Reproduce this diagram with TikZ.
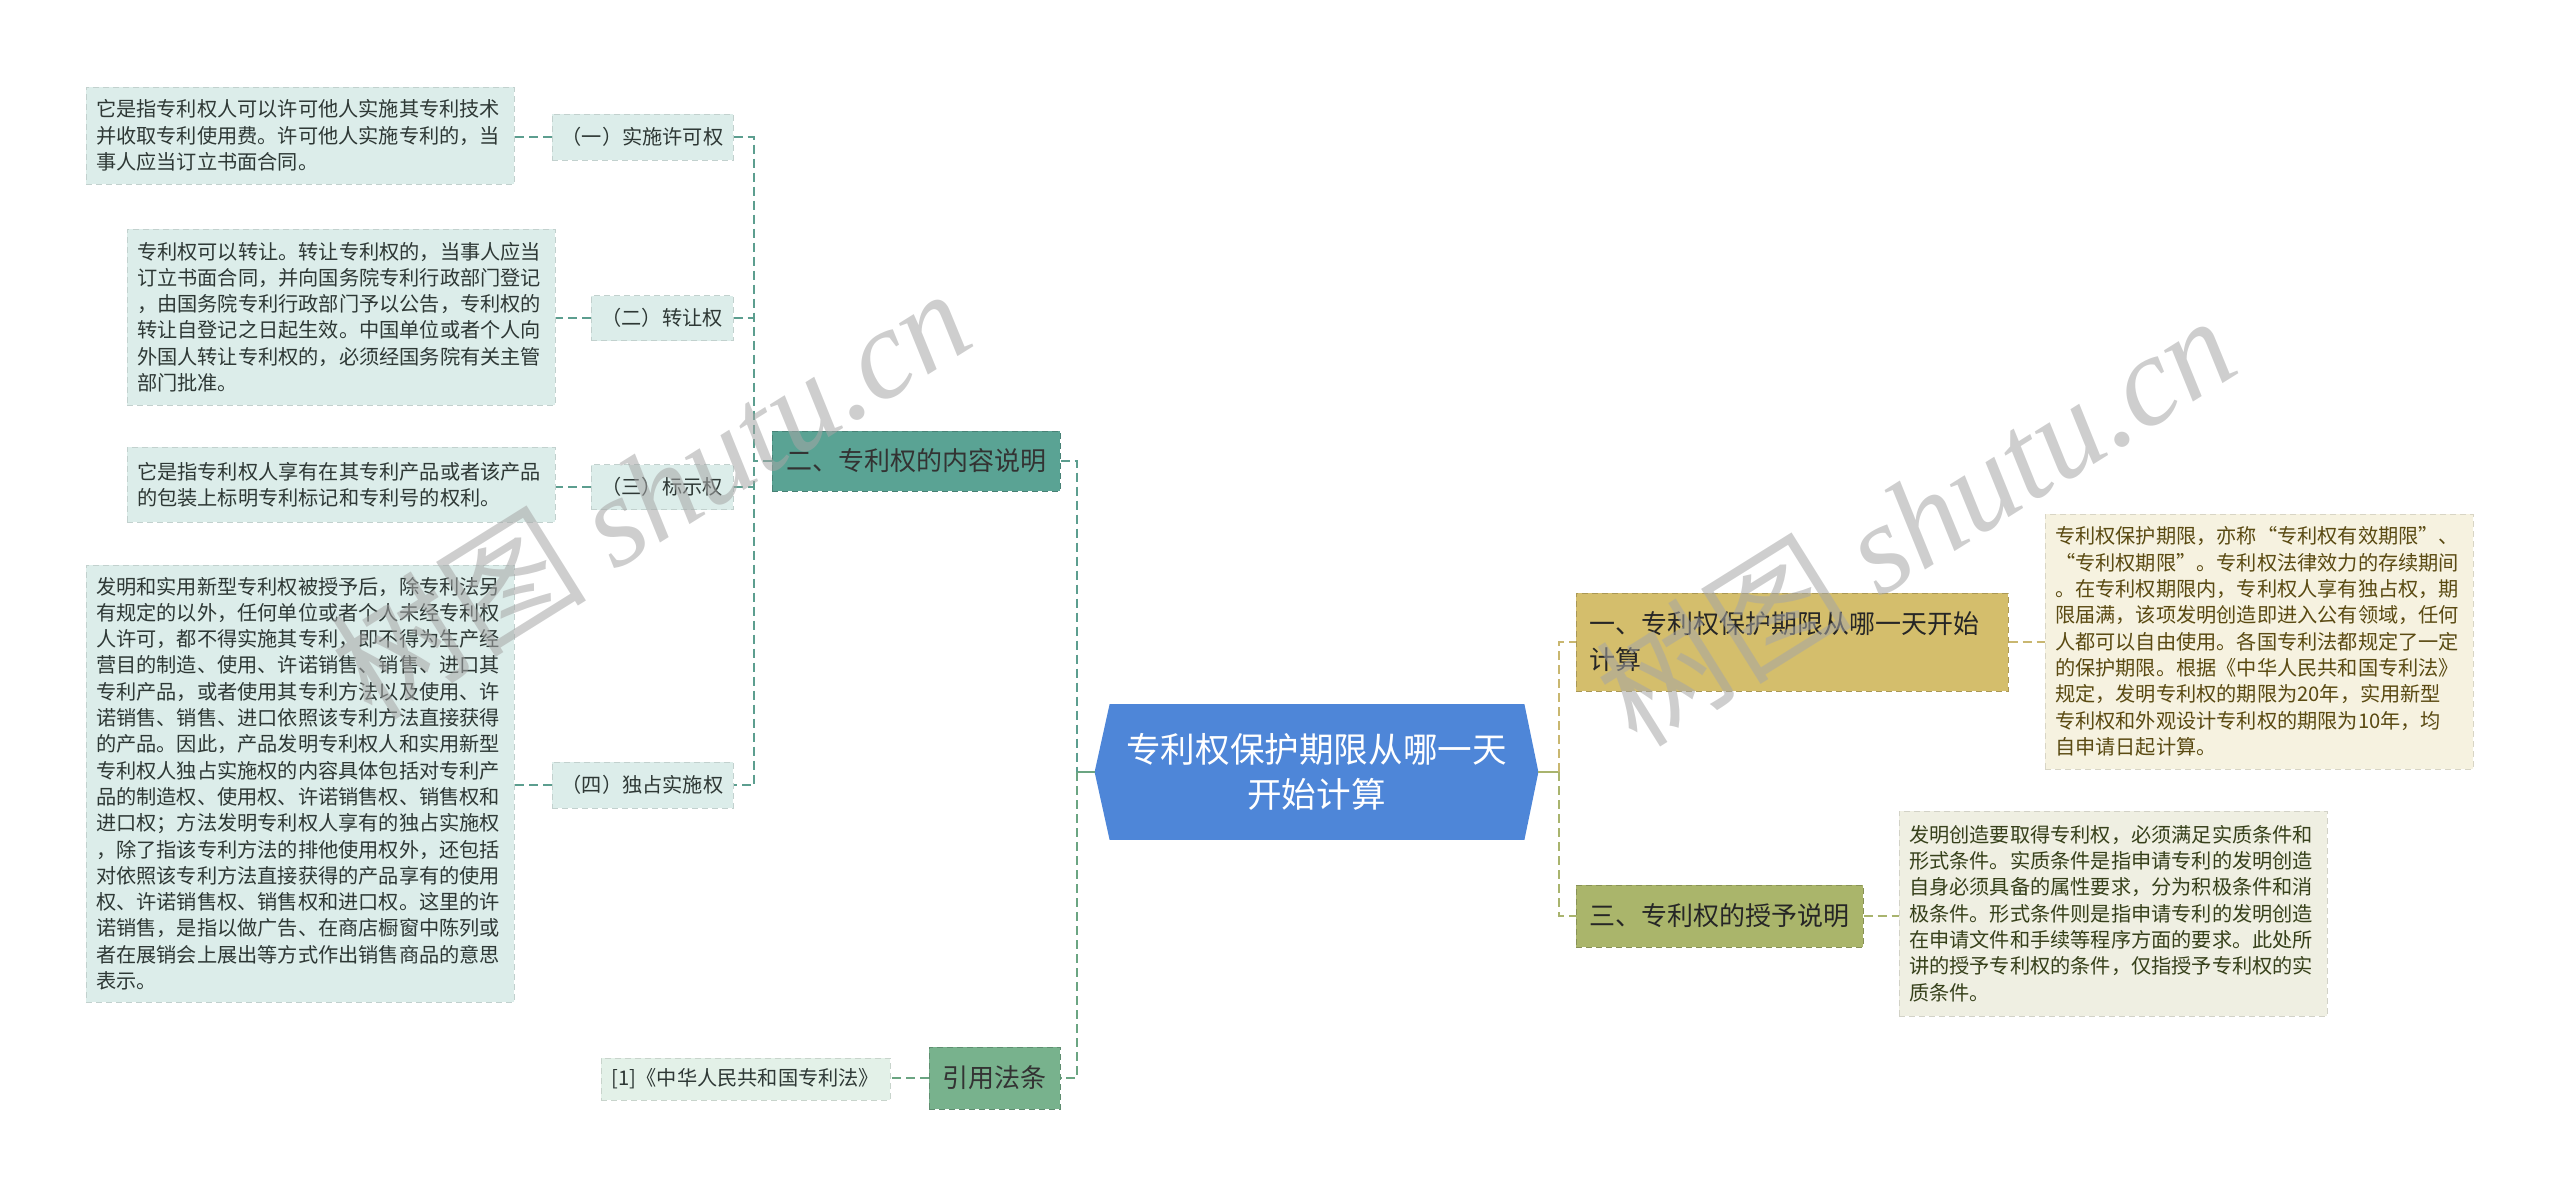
\documentclass[tikz,border=0pt]{standalone}
\usepackage{fontspec}
\setmainfont{Noto Sans CJK SC}
\newfontfamily\wmfont{Liberation Serif}
\usetikzlibrary{backgrounds}
\definecolor{rootblue}{HTML}{4E86D8}
\definecolor{tealfill}{HTML}{5AA394}
\definecolor{tealline}{HTML}{5C9E8F}
\definecolor{greenfill}{HTML}{78B28D}
\definecolor{greenline}{HTML}{6BA582}
\definecolor{lightteal}{HTML}{DCEDEA}
\definecolor{lightgreen}{HTML}{E3F1E8}
\definecolor{goldfill}{HTML}{D4BE6C}
\definecolor{goldline}{HTML}{C9B770}
\definecolor{goldlight}{HTML}{F6F2E0}
\definecolor{olivefill}{HTML}{AAB56B}
\definecolor{oliveline}{HTML}{A9B46E}
\definecolor{olivelight}{HTML}{EFEFE2}
\definecolor{txtdark}{HTML}{2E3835}
\definecolor{txtgold}{HTML}{5A4A12}
\definecolor{txtolive}{HTML}{36401A}
\tikzset{
  boxbase/.style={inner sep=0pt, dash pattern=on 3pt off 2pt, line width=0.5pt},
  descbox/.style={boxbase, fill=#1, draw=#1!88!black, text width=204pt, align=left,
    inner xsep=5pt, font=\fontsize{10.1}{13.15}\selectfont, minimum width=214pt},
  lab/.style={boxbase, fill=lightteal, draw=lightteal!88!black, align=center,
    font=\fontsize{10.1}{13.15}\selectfont, text=txtdark},
  topic/.style={boxbase, fill=#1, draw=#1!80!black, align=center,
    font=\fontsize{13}{18}\selectfont},
  rootn/.style={inner sep=0pt, minimum width=221.5pt, minimum height=67.5pt, text=white,
    align=center, font=\fontsize{17.3}{22.5}\selectfont},
  dashT/.style={draw=tealline, line width=1pt, dash pattern=on 4.5pt off 2.5pt},
  dashG/.style={draw=greenline, line width=1pt, dash pattern=on 4.5pt off 2.5pt},
  dashY/.style={draw=goldline, line width=1pt, dash pattern=on 4.5pt off 2.5pt},
  dashO/.style={draw=oliveline, line width=1pt, dash pattern=on 4.5pt off 2.5pt},
  wm/.style={text=black!35, opacity=0.55, inner sep=0pt, font=\fontsize{64}{64}\selectfont}
}
\begin{document}
\begin{tikzpicture}[x=0.5pt,y=-0.5pt]
\useasboundingbox (0,0) rectangle (2560,1196);

% root
\node[rootn] (root) at (1316.5,772) {专利权保护期限从哪一天\\开始计算};
\begin{scope}[on background layer]
\fill[rootblue] ([xshift=7.5pt]root.north west) -- ([xshift=-7pt]root.north east) -- (root.east)
  -- ([xshift=-7pt]root.south east) -- ([xshift=7.5pt]root.south west) -- (root.west) -- cycle;
\end{scope}

% left main topics
\node[topic=tealfill, minimum width=144pt, minimum height=30pt, text=black!80] (er) at (916,461) {二、专利权的内容说明};
\node[topic=greenfill, minimum width=65.5pt, minimum height=31pt, text=black!80] (yin) at (994.5,1078) {引用法条};

% labels
\node[lab, minimum width=90.5pt, minimum height=23pt] (L1) at (642.5,137) {（一）实施许可权};
\node[lab, minimum width=71pt, minimum height=22.5pt] (L2) at (662,318) {（二）转让权};
\node[lab, minimum width=71pt, minimum height=22.5pt] (L3) at (662,487) {（三）标示权};
\node[lab, minimum width=90.5pt, minimum height=23pt] (L4) at (642.5,785) {（四）独占实施权};
\node[lab, fill=lightgreen, draw=lightgreen!88!black, minimum width=144.5pt, minimum height=21pt] (ref) at (745.5,1079) {[1]《中华人民共和国专利法》};

% left descriptions
\node[descbox=lightteal, text=txtdark, minimum height=48.5pt] (d1) at (300,135.5) {它是指专利权人可以许可他人实施其专利技术\\并收取专利使用费。许可他人实施专利的，当\\事人应当订立书面合同。};
\node[descbox=lightteal, text=txtdark, minimum height=88pt] (d2) at (341,317) {专利权可以转让。转让专利权的，当事人应当\\订立书面合同，并向国务院专利行政部门登记\\，由国务院专利行政部门予以公告，专利权的\\转让自登记之日起生效。中国单位或者个人向\\外国人转让专利权的，必须经国务院有关主管\\部门批准。};
\node[descbox=lightteal, text=txtdark, minimum height=37.5pt] (d3) at (341,484.5) {它是指专利权人享有在其专利产品或者该产品\\的包装上标明专利标记和专利号的权利。};
\node[descbox=lightteal, text=txtdark, minimum height=218.5pt] (d4) at (300,783.5) {发明和实用新型专利权被授予后，除专利法另\\有规定的以外，任何单位或者个人未经专利权\\人许可，都不得实施其专利，即不得为生产经\\营目的制造、使用、许诺销售、销售、进口其\\专利产品，或者使用其专利方法以及使用、许\\诺销售、销售、进口依照该专利方法直接获得\\的产品。因此，产品发明专利权人和实用新型\\专利权人独占实施权的内容具体包括对专利产\\品的制造权、使用权、许诺销售权、销售权和\\进口权；方法发明专利权人享有的独占实施权\\，除了指该专利方法的排他使用权外，还包括\\对依照该专利方法直接获得的产品享有的使用\\权、许诺销售权、销售权和进口权。这里的许\\诺销售，是指以做广告、在商店橱窗中陈列或\\者在展销会上展出等方式作出销售商品的意思\\表示。};

% right topics
\node[topic=goldfill, minimum width=216pt, minimum height=49pt, text width=203pt, align=left, inner xsep=6.5pt, text=black!85] (yi) at (1792,642) {一、专利权保护期限从哪一天开始\\计算};
\node[topic=olivefill, minimum width=143.5pt, minimum height=31pt, text=black!85] (san) at (1719.5,916) {三、专利权的授予说明};

% right descriptions
\node[descbox=goldlight, text=txtgold, minimum height=127.5pt] (R1) at (2259,641.5) {专利权保护期限，亦称“专利权有效期限”、\\“专利权期限”。专利权法律效力的存续期间\\。在专利权期限内，专利权人享有独占权，期\\限届满，该项发明创造即进入公有领域，任何\\人都可以自由使用。各国专利法都规定了一定\\的保护期限。根据《中华人民共和国专利法》\\规定，发明专利权的期限为20年，实用新型\\专利权和外观设计专利权的期限为10年，均\\自申请日起计算。};
\node[descbox=olivelight, text=txtolive, minimum height=102.5pt] (R3) at (2113,913.5) {发明创造要取得专利权，必须满足实质条件和\\形式条件。实质条件是指申请专利的发明创造\\自身必须具备的属性要求，分为积极条件和消\\极条件。形式条件则是指申请专利的发明创造\\在申请文件和手续等程序方面的要求。此处所\\讲的授予专利权的条件，仅指授予专利权的实\\质条件。};

% spines
\coordinate (sL) at (1077,772);
\coordinate (sE) at (754,461);
\coordinate (sR) at (1559,772);

\begin{scope}[on background layer]
% left main
\draw[draw=greenline, line width=1.2pt] (root.west) -- (root.west -| sL);
\draw[dashT] (er.east) -- (er.east -| sL) -- (root.west -| sL);
\draw[dashG] (root.west -| sL) -- (yin.east -| sL) -- (yin.east);
\draw[dashG] (yin.west) -- (yin.west -| ref.east);
% sub spine
\draw[dashT] (er.west) -- (er.west -| sE);
\draw[dashT] (L1.east) -- (L1.east -| sE) -- (L4.east -| sE) -- (L4.east);
\draw[dashT] (L2.east) -- (L2.east -| sE);
\draw[dashT] (L3.east) -- (L3.east -| sE);
\draw[dashT] (L1.west) -- (L1.west -| d1.east);
\draw[dashT] (L2.west) -- (L2.west -| d2.east);
\draw[dashT] (L3.west) -- (L3.west -| d3.east);
\draw[dashT] (L4.west) -- (L4.west -| d4.east);
% right
\draw[draw=oliveline, line width=1.2pt] (root.east) -- (root.east -| sR);
\draw[dashY] (root.east -| sR) -- (yi.west -| sR) -- (yi.west);
\draw[dashO] (root.east -| sR) -- (san.west -| sR) -- (san.west);
\draw[dashY] (yi.east) -- (yi.east -| R1.west);
\draw[dashO] (san.east) -- (san.east -| R3.west);
\end{scope}

% watermarks
\node[wm, rotate=32] (wm1) at (650,492) {树图 {\wmfont\itshape shutu.cn}};
\node[wm, rotate=32] (wm2) at (1915,519) {树图 {\wmfont\itshape shutu.cn}};
\end{tikzpicture}
\end{document}
